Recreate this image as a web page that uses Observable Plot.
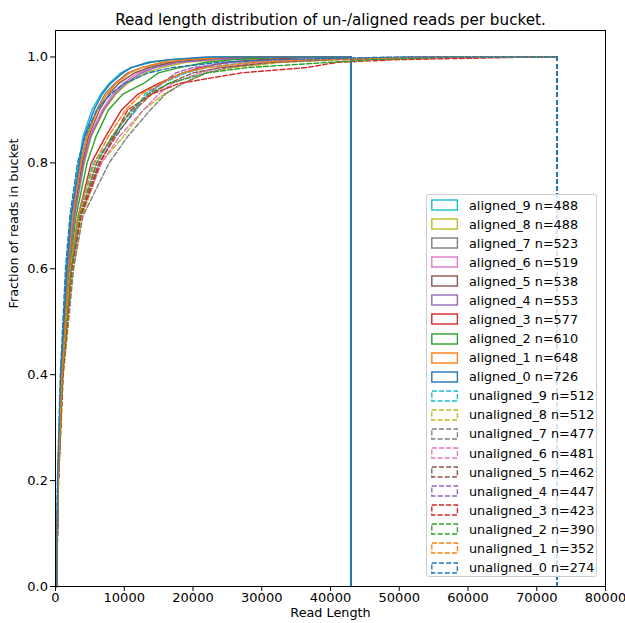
<!DOCTYPE html>
<html>
<head>
<meta charset="utf-8">
<script src="https://cdn.jsdelivr.net/npm/d3@7"></script>
<script src="https://cdn.jsdelivr.net/npm/@observablehq/plot@0.6"></script>
<style>
  html, body { margin: 0; padding: 0; background: #fff; }
  #wrap { position: relative; width: 625px; height: 623px; font-family: "DejaVu Sans", sans-serif; }
  #legend { position: absolute; left: 426px; top: 194px; width: 171px; height: 383px; box-sizing: border-box;
            border: 1px solid #cccccc; border-radius: 3px; background: rgba(255,255,255,0.8); }
  .row { position: absolute; left: 0; height: 19px; display: flex; align-items: center; font-size: 12.8px; color: #000; white-space: nowrap; }
  .row svg { margin-left: 4px; margin-right: 10px; }
</style>
</head>
<body>
<div id="wrap"></div>
<script>
// ---------- data ----------
const title = "Read length distribution of un-/aligned reads per bucket.";
const xLabel = "Read Length";
const yLabel = "Fraction of reads in bucket";

const colors = ["#1f77b4", "#ff7f0e", "#2ca02c", "#d62728", "#9467bd", "#8c564b", "#e377c2", "#7f7f7f", "#bcbd22", "#17becf"];

const alignedNames = ["aligned_0", "aligned_1", "aligned_2", "aligned_3", "aligned_4", "aligned_5", "aligned_6", "aligned_7", "aligned_8", "aligned_9"];
const alignedN = [726, 648, 610, 577, 553, 538, 519, 523, 488, 488];
const unalignedNames = ["unaligned_0", "unaligned_1", "unaligned_2", "unaligned_3", "unaligned_4", "unaligned_5", "unaligned_6", "unaligned_7", "unaligned_8", "unaligned_9"];
const unalignedN = [274, 352, 390, 423, 447, 462, 481, 477, 512, 512];

// last bin edge (where every step outline drops back to 0)
const alignedEnd = 43000;
const unalignedEnd = 73000;

// cumulative fraction levels and the read length at which each series reaches them
const levels = [0, 0.2, 0.4, 0.6, 0.7, 0.8, 0.85, 0.9, 0.93, 0.95, 0.97, 0.98, 0.99, 0.995, 1.0];

const alignedQ = [
  [150, 330, 800, 1650, 2300, 3500, 4200, 5600, 6800, 8000, 9800, 11000, 13500, 16500, 22000],   // aligned_0
  [150, 350, 850, 1750, 2500, 3700, 4600, 6100, 7500, 8800, 10800, 12500, 15500, 19000, 26000],  // aligned_1
  [150, 380, 950, 2050, 3000, 4600, 5900, 7700, 9800, 12800, 15000, 18000, 22000, 26000, 33000], // aligned_2
  [150, 400, 1000, 2200, 3300, 5200, 7300, 9600, 12000, 15000, 18500, 21000, 25000, 30000, 38000], // aligned_3
  [150, 370, 900, 1900, 2750, 4100, 5100, 7000, 8600, 10200, 12500, 14500, 18000, 23000, 35000], // aligned_4
  [150, 360, 880, 1850, 2650, 3900, 4800, 6400, 7800, 9200, 11500, 13500, 17000, 21000, 28000],  // aligned_5
  [150, 370, 900, 1900, 2700, 4000, 5000, 6800, 8300, 9800, 12000, 14000, 17500, 22000, 32000],  // aligned_6
  [150, 350, 860, 1800, 2550, 3700, 4500, 6000, 7200, 8600, 10500, 12500, 16000, 20000, 30000],  // aligned_7
  [150, 380, 920, 1950, 2800, 4200, 5200, 7100, 8800, 10500, 13000, 15500, 19000, 24000, 38000], // aligned_8
  [150, 320, 780, 1600, 2250, 3400, 4000, 5300, 6600, 7800, 9500, 11000, 14000, 17000, 24000]    // aligned_9
];

const unalignedQ = [
  [150, 280, 700, 1450, 2100, 3200, 4300, 6000, 8000, 10000, 13500, 17000, 24000, 32000, 50000],   // unaligned_0
  [150, 370, 950, 2100, 3300, 5700, 7700, 10200, 12500, 15300, 18500, 22000, 29000, 37000, 55000], // unaligned_1
  [150, 400, 1000, 2300, 3500, 6000, 8300, 11000, 13500, 16500, 22000, 28000, 40000, 46000, 58000],// unaligned_2
  [150, 420, 1050, 2400, 3700, 6500, 8500, 10500, 14000, 18000, 27000, 36500, 41000, 50000, 70000],// unaligned_3
  [150, 400, 1000, 2300, 3500, 6000, 8200, 11200, 13500, 15500, 17500, 20000, 26000, 34000, 52000],// unaligned_4
  [150, 410, 1050, 2350, 3600, 6300, 8800, 11500, 14000, 16500, 20000, 24000, 32000, 40000, 58000],// unaligned_5
  [150, 420, 1050, 2400, 3700, 6700, 9300, 12800, 15000, 17000, 21000, 24000, 30000, 38000, 55000],// unaligned_6
  [150, 440, 1100, 2600, 4000, 7800, 10500, 13800, 16000, 18500, 22000, 25000, 31000, 40000, 60000],// unaligned_7
  [150, 450, 1150, 2650, 3900, 6600, 9900, 12800, 15800, 18500, 22000, 26000, 33000, 42000, 60000],// unaligned_8
  [150, 400, 1000, 2200, 3300, 5500, 8500, 11800, 13000, 15500, 19000, 22000, 28000, 36000, 55000] // unaligned_9
];

const xTicks = [0, 10000, 20000, 30000, 40000, 50000, 60000, 70000, 80000];
const yTicks = [0, 0.2, 0.4, 0.6, 0.8, 1.0];

// ---------- build tables ----------
// drawn in reverse so series _0 ends up on top (as matplotlib does)
function buildRows(names, qs, end) {
  const rows = [];
  for (let i = names.length - 1; i >= 0; i--) {
    const q = qs[i];
    rows.push({series: names[i], x: q[0], y: 0});
    levels.forEach((l, j) => rows.push({series: names[i], x: q[j], y: l}));
    rows.push({series: names[i], x: end, y: 1});
  }
  return rows;
}
function buildDrops(names, end) {
  const rows = [];
  for (let i = names.length - 1; i >= 0; i--) rows.push({series: names[i], x: end, top: 1, bottom: 0});
  return rows;
}
const alignedRows = buildRows(alignedNames, alignedQ, alignedEnd);
const unalignedRows = buildRows(unalignedNames, unalignedQ, unalignedEnd);
const alignedDrops = buildDrops(alignedNames, alignedEnd);
const unalignedDrops = buildDrops(unalignedNames, unalignedEnd);

const dash = "5,2.2";
const lw = 1.4;

const chart = Plot.plot({
  width: 625,
  height: 623,
  marginTop: 30,
  marginBottom: 37,
  marginLeft: 55,
  marginRight: 20,
  style: {fontFamily: "DejaVu Sans, sans-serif", fontSize: "13px", color: "#000", background: "#fff"},
  x: {domain: [0, 80000], ticks: xTicks, tickFormat: d3.format("d"), label: null, tickSize: 5, tickPadding: 1.5},
  y: {domain: [0, 1.05], ticks: yTicks, tickFormat: d3.format(".1f"), label: null, tickSize: 5, tickPadding: 2.5},
  color: {domain: [...alignedNames, ...unalignedNames], range: [...colors, ...colors]},
  marks: [
    Plot.line(alignedRows, {x: "x", y: "y", z: "series", stroke: "series", strokeWidth: lw, curve: "linear"}),
    Plot.ruleX(alignedDrops, {x: "x", y1: "top", y2: "bottom", stroke: "series", strokeWidth: 2, shapeRendering: "crispEdges"}),
    Plot.line(unalignedRows, {x: "x", y: "y", z: "series", stroke: "series", strokeWidth: lw, strokeDasharray: dash, curve: "linear"}),
    Plot.ruleX(unalignedDrops, {x: "x", y1: "top", y2: "bottom", stroke: "series", strokeWidth: 2, strokeDasharray: dash, shapeRendering: "crispEdges"}),
    Plot.frame({stroke: "#000", strokeWidth: 1}),
    Plot.text([title], {frameAnchor: "top", dy: -16, fontSize: 15.2, fill: "#000"}),
    Plot.text([xLabel], {frameAnchor: "bottom", dy: 30, fontSize: 12.8, fill: "#000"}),
    Plot.text([yLabel], {frameAnchor: "left", dx: -42, rotate: -90, fontSize: 12.8, fill: "#000"})
  ]
});

const wrap = document.getElementById("wrap");
wrap.appendChild(chart);

// ---------- legend ----------
const legend = document.createElement("div");
legend.id = "legend";
const entries = [];
for (let i = alignedNames.length - 1; i >= 0; i--) entries.push({name: alignedNames[i], n: alignedN[i], color: colors[i], dashed: false});
for (let i = unalignedNames.length - 1; i >= 0; i--) entries.push({name: unalignedNames[i], n: unalignedN[i], color: colors[i], dashed: true});
entries.forEach((e, k) => {
  const row = document.createElement("div");
  row.className = "row";
  row.style.top = (0.5 + 19.08 * k) + "px";
  row.innerHTML = `<svg width="28" height="12"><rect x="0.8" y="1" width="25.6" height="10" fill="none" stroke="${e.color}" stroke-width="${lw}" ${e.dashed ? `stroke-dasharray="${dash}"` : ""}/></svg><span>${e.name} n=${e.n}</span>`;
  legend.appendChild(row);
});
wrap.appendChild(legend);
</script>
</body>
</html>
